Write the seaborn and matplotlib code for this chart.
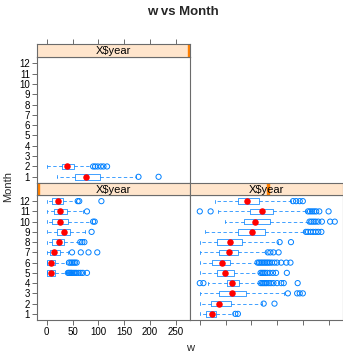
import matplotlib
matplotlib.use("Agg")
import matplotlib.pyplot as plt
import seaborn as sns
import pandas as pd

sns.set_theme(style="white")
plt.rcParams['font.family'] = ['Liberation Sans', 'DejaVu Sans']

BLUE = "#0080ff"
EDGE = "#6b6b6b"
STRIP = "#ffe5cc"
ORANGE = "#ff7f00"

# ---------------- data ----------------
month_ticks = list(range(1, 13))
x_ticks = [0, 50, 100, 150, 200, 250]
strip_label = "X$year"

# panel A: top-left
a_month = [1, 2]
a_lo = [20, 0.5]
a_q1 = [55, 30]
a_med = [77, 39]
a_q3 = [103, 53]
a_hi = [174, 87]
a_out = [[178, 217], [90, 94, 99, 105, 110, 117]]

# panel B: bottom-left
b_month = [5, 6, 7, 8, 9, 10, 11, 12]
b_lo = [0.5, 0.5, 1, 0.5, 0.5, 0.5, 0.5, 1]
b_q1 = [1, 1, 6, 10, 19, 11, 14, 10]
b_med = [9, 9, 14, 23, 34, 25, 26, 22]
b_q3 = [15, 16, 26, 33, 46, 41, 39, 31]
b_hi = [38, 38, 41, 62, 74, 87, 70, 57]
b_out = [[41, 43, 45, 47, 49, 52, 55, 58, 62, 66, 70, 78],
         [43, 46, 49, 52, 55, 58],
         [49, 66, 81, 98],
         [65, 69, 73],
         [87],
         [90, 93],
         [78],
         [60, 63, 106]]

# panel C: bottom-right
c_month = list(range(1, 13))
c_lo = [0, 0, 0, 16, 0, 0, 0, 0, 11, 48, 35, 30]
c_q1 = [13, 22, 37, 52, 34, 23, 37, 34, 75, 86, 98, 75]
c_med = [24, 37, 62, 62, 48, 44, 56, 58, 101, 108, 120, 91]
c_q3 = [32, 60, 89, 77, 66, 59, 74, 81, 127, 136, 142, 114]
c_hi = [64, 121, 164, 116, 116, 110, 129, 151, 203, 211, 207, 177]
c_out = [[69, 74],
         [124, 145],
         [171, 189, 194, 200],
         [0, 7, 118, 121, 124, 127, 130, 134, 138, 143, 150, 158, 163, 190],
         [118, 121, 124, 127, 131, 136, 142, 148, 169],
         [112, 115, 118, 121, 124, 127, 130, 133, 136, 140, 145, 150, 158, 168, 176],
         [132, 137, 143, 153],
         [155, 177],
         [206, 210, 215, 220, 225, 230, 236],
         [213, 217, 221, 225, 230, 237, 253, 262],
         [0, 21, 210, 214, 218, 222, 226, 232, 250],
         [181, 187, 194, 200]]

panels = {
    "A": (a_month, a_lo, a_q1, a_med, a_q3, a_hi, a_out),
    "B": (b_month, b_lo, b_q1, b_med, b_q3, b_hi, b_out),
    "C": (c_month, c_lo, c_q1, c_med, c_q3, c_hi, c_out),
}

med_rows, out_rows = [], []
for key, (mo, lo, q1, md, q3, hi, outs) in panels.items():
    for i, m in enumerate(mo):
        med_rows.append(dict(panel=key, month=m, value=md[i]))
        for v in outs[i]:
            out_rows.append(dict(panel=key, month=m, value=v))
med_df = pd.DataFrame(med_rows)
out_df = pd.DataFrame(out_rows)

# ---------------- layout ----------------
W, H = 343, 354
fig = plt.figure(figsize=(W / 100, H / 100), dpi=100)


def rect(x0, y0, x1, y1):
    return [x0 / W, 1 - y1 / H, (x1 - x0) / W, (y1 - y0) / H]


XLIM = (-19, 278)
YLIM = (0.4, 12.6)


def style_axes(ax):
    for s in ax.spines.values():
        s.set_color(EDGE)
        s.set_linewidth(0.8)
    ax.tick_params(colors=EDGE, labelcolor="black", labelsize=7, length=3.5,
                   width=0.7, direction="out", pad=1.5)


def draw_panel(ax, key, ylabels, xlabels):
    mo, lo, q1, md, q3, hi, outs = panels[key]
    stats = [dict(med=md[i], q1=q1[i], q3=q3[i], whislo=lo[i], whishi=hi[i],
                  fliers=[]) for i in range(len(mo))]
    ax.bxp(stats, positions=mo, widths=0.55, orientation="horizontal",
           showfliers=False, patch_artist=False, manage_ticks=False,
           boxprops=dict(color=BLUE, linewidth=0.7, alpha=0.75),
           whiskerprops=dict(color=BLUE, linewidth=0.7, linestyle=(0, (3.5, 2.5)), alpha=0.75),
           capprops=dict(color=BLUE, linewidth=0.7, alpha=0.75),
           capwidths=0.3,
           medianprops=dict(visible=False))
    sub_o = out_df[out_df.panel == key]
    sns.scatterplot(data=sub_o, x="value", y="month", ax=ax, marker="o",
                    s=14, facecolor="none", edgecolor=BLUE, linewidth=0.7,
                    legend=False, zorder=3)
    sub_m = med_df[med_df.panel == key]
    sns.scatterplot(data=sub_m, x="value", y="month", ax=ax, marker="o",
                    s=22, color="red", edgecolor="red", linewidth=0,
                    legend=False, zorder=4)
    ax.set_xlim(*XLIM)
    ax.set_ylim(*YLIM)
    ax.set_xlabel("")
    ax.set_ylabel("")
    ax.set_yticks(month_ticks)
    ax.set_xticks(x_ticks)
    style_axes(ax)
    ax.tick_params(axis="y", left=ylabels, labelleft=ylabels)
    ax.tick_params(axis="x", bottom=xlabels is not None, labelbottom=bool(xlabels))


def draw_strip(ax, ind, top_ticks=False):
    ax.set_facecolor(STRIP)
    ax.set_xlim(0, 1)
    ax.set_ylim(0, 1)
    ax.axvspan(ind[0], ind[1], color=ORANGE, zorder=1)
    ax.text(0.5, 0.45, strip_label, ha="center", va="center", fontsize=8,
            color="black", zorder=3)
    style_axes(ax)
    ax.set_yticks([])
    if top_ticks:
        sec = ax.twiny()
        sec.set_xlim(*XLIM)
        sec.set_xticks(x_ticks)
        sec.tick_params(axis="x", top=True, labeltop=False, colors=EDGE,
                        length=3.5, width=0.7, direction="out")
        for s in sec.spines.values():
            s.set_visible(False)
    ax.set_xticks([])


axA = fig.add_axes(rect(37, 57, 190, 183))
axB = fig.add_axes(rect(37, 195, 190, 320))
axC = fig.add_axes(rect(190, 195, 343, 320))
sA = fig.add_axes(rect(37, 44, 190, 57))
sB = fig.add_axes(rect(37, 183, 190, 195))
sC = fig.add_axes(rect(190, 183, 343, 195))

draw_panel(axA, "A", ylabels=True, xlabels=None)
draw_panel(axB, "B", ylabels=True, xlabels=True)
draw_panel(axC, "C", ylabels=False, xlabels=False)

draw_strip(sA, (0.986, 1.0), top_ticks=True)
draw_strip(sB, (0.0, 0.014))
draw_strip(sC, (0.5, 0.517))

fig.text(182.5 / W, 1 - 12 / H, "w vs Month", ha="center", va="center",
         fontsize=9.5, fontweight="bold")
fig.text(8 / W, 1 - 187 / H, "Month", ha="center", va="center",
         rotation=90, fontsize=8)
fig.text(190 / W, 1 - 348 / H, "w", ha="center", va="center", fontsize=8)

fig.savefig("out.png", dpi=100, facecolor="white")
